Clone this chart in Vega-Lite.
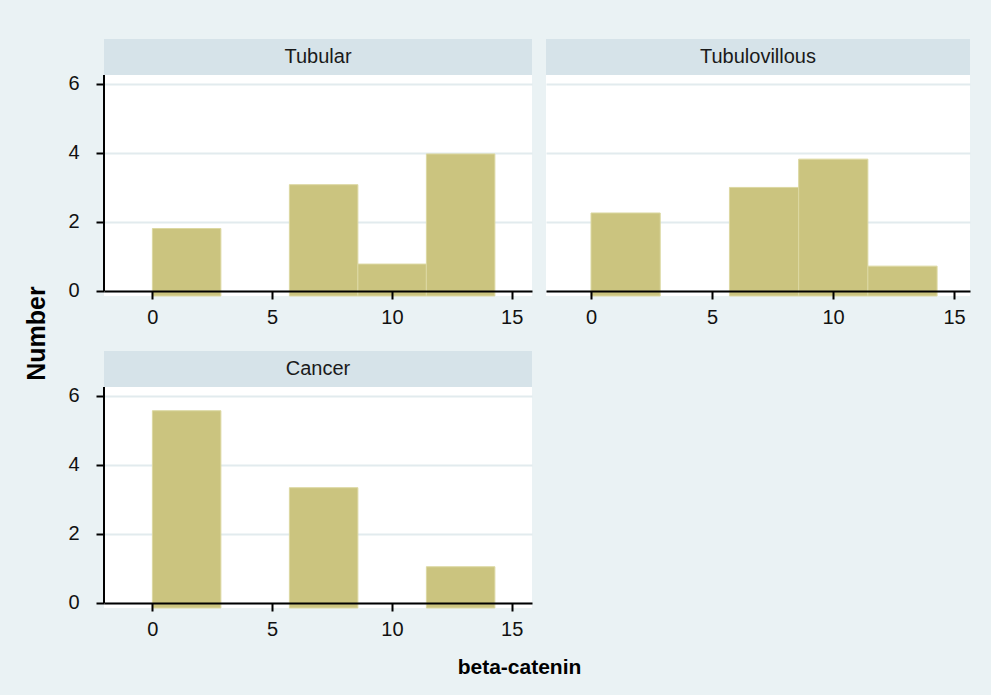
{
  "$schema": "https://vega.github.io/schema/vega-lite/v6.json",
  "background": "#eaf2f4",
  "padding": {"left": 24, "top": 39, "right": 21, "bottom": 18},
  "config": {
    "font": "Liberation Sans",
    "view": {"fill": "white", "stroke": null},
    "axis": {
      "domainColor": "black", "domainWidth": 2,
      "tickColor": "black", "tickWidth": 2, "tickSize": 8,
      "labelColor": "#111111", "labelFontSize": 20, "labelFont": "Liberation Sans",
      "titleColor": "black", "titleFont": "Liberation Sans",
      "gridColor": "#e2ebee", "gridWidth": 2
    }
  },
  "datasets": {
    "hist": [
      {"group": "Tubular", "bin_start": 0, "bin_end": 2.86, "count": 1.81},
      {"group": "Tubular", "bin_start": 5.72, "bin_end": 8.58, "count": 3.08},
      {"group": "Tubular", "bin_start": 8.58, "bin_end": 11.44, "count": 0.78},
      {"group": "Tubular", "bin_start": 11.44, "bin_end": 14.3, "count": 3.97},
      {"group": "Tubulovillous", "bin_start": 0, "bin_end": 2.86, "count": 2.26},
      {"group": "Tubulovillous", "bin_start": 5.72, "bin_end": 8.58, "count": 3.0},
      {"group": "Tubulovillous", "bin_start": 8.58, "bin_end": 11.44, "count": 3.82},
      {"group": "Tubulovillous", "bin_start": 11.44, "bin_end": 14.3, "count": 0.72},
      {"group": "Cancer", "bin_start": 0, "bin_end": 2.86, "count": 5.57},
      {"group": "Cancer", "bin_start": 5.72, "bin_end": 8.58, "count": 3.34},
      {"group": "Cancer", "bin_start": 11.44, "bin_end": 14.3, "count": 1.05}
    ]
  },
  "bounds": "flush",
  "spacing": {"row": 55, "column": 14},
  "columns": 2,
  "concat": [
    {
      "width": 428, "height": 257,
      "layer": [
        {
          "data": {"name": "hist"},
          "transform": [{"filter": "datum.group === 'Tubular'"}],
          "mark": {"type": "rect", "fill": "#cbc47f", "stroke": "#dcd8a2", "strokeWidth": 1},
          "encoding": {
            "x": {"field": "bin_start", "type": "quantitative", "scale": {"domain": [-2.02, 15.85], "nice": false, "zero": false},
                  "axis": {"values": [0, 5, 10, 15], "grid": false, "title": null, "labelPadding": 8, "offset": -5, "zindex": 1}},
            "x2": {"field": "bin_end"},
            "y": {"field": "count", "type": "quantitative", "scale": {"domain": [-0.145, 7.3], "nice": false, "zero": false},
                  "axis": {"values": [0, 2, 4, 6], "grid": true, "domain": false, "labelPadding": 17,
                           "title": "Number", "titleFontSize": 25, "titleFontWeight": "bold",
                           "titleX": -68, "titleY": 294, "titleAngle": -90, "titleBaseline": "middle", "titleAlign": "center"}},
            "y2": {"datum": -0.145}
          }
        },
        {
          "data": {"values": [{"panel": "Tubular"}]},
          "mark": {"type": "rect", "fill": "#d6e3e9"},
          "encoding": {"x": {"datum": -2.02}, "x2": {"datum": 15.85}, "y": {"datum": 6.26}, "y2": {"datum": 7.3}}
        },
        {
          "data": {"values": [{"panel": "Tubular"}]},
          "mark": {"type": "text", "fontSize": 20, "color": "#1a1a1a", "baseline": "middle"},
          "encoding": {"x": {"datum": 6.915}, "y": {"datum": 6.78}, "text": {"field": "panel"}}
        },
        {
          "data": {"values": [{"panel": "Tubular"}]},
          "mark": {"type": "rule", "color": "black", "strokeWidth": 2},
          "encoding": {"x": {"datum": -2.02}, "y": {"datum": 0}, "y2": {"datum": 6.26}}
        }
      ]
    },
    {
      "width": 424, "height": 257,
      "layer": [
        {
          "data": {"name": "hist"},
          "transform": [{"filter": "datum.group === 'Tubulovillous'"}],
          "mark": {"type": "rect", "fill": "#cbc47f", "stroke": "#dcd8a2", "strokeWidth": 1},
          "encoding": {
            "x": {"field": "bin_start", "type": "quantitative", "scale": {"domain": [-1.86, 15.66], "nice": false, "zero": false},
                  "axis": {"values": [0, 5, 10, 15], "grid": false, "title": null, "labelPadding": 8, "offset": -5, "zindex": 1}},
            "x2": {"field": "bin_end"},
            "y": {"field": "count", "type": "quantitative", "scale": {"domain": [-0.145, 7.3], "nice": false, "zero": false},
                  "axis": {"values": [0, 2, 4, 6], "grid": true, "domain": false, "ticks": false, "labels": false, "title": null}},
            "y2": {"datum": -0.145}
          }
        },
        {
          "data": {"values": [{"panel": "Tubulovillous"}]},
          "mark": {"type": "rect", "fill": "#d6e3e9"},
          "encoding": {"x": {"datum": -1.86}, "x2": {"datum": 15.66}, "y": {"datum": 6.26}, "y2": {"datum": 7.3}}
        },
        {
          "data": {"values": [{"panel": "Tubulovillous"}]},
          "mark": {"type": "text", "fontSize": 20, "color": "#1a1a1a", "baseline": "middle"},
          "encoding": {"x": {"datum": 6.9}, "y": {"datum": 6.78}, "text": {"field": "panel"}}
        }
      ]
    },
    {
      "width": 428, "height": 257,
      "layer": [
        {
          "data": {"name": "hist"},
          "transform": [{"filter": "datum.group === 'Cancer'"}],
          "mark": {"type": "rect", "fill": "#cbc47f", "stroke": "#dcd8a2", "strokeWidth": 1},
          "encoding": {
            "x": {"field": "bin_start", "type": "quantitative", "scale": {"domain": [-2.02, 15.85], "nice": false, "zero": false},
                  "axis": {"values": [0, 5, 10, 15], "grid": false, "labelPadding": 8, "offset": -5, "zindex": 1,
                           "title": "beta-catenin", "titleFontSize": 21, "titleFontWeight": "bold",
                           "titleX": 415, "titleY": 64, "titleBaseline": "middle", "titleAlign": "center"}},
            "x2": {"field": "bin_end"},
            "y": {"field": "count", "type": "quantitative", "scale": {"domain": [-0.145, 7.3], "nice": false, "zero": false},
                  "axis": {"values": [0, 2, 4, 6], "grid": true, "domain": false, "labelPadding": 17, "title": null}},
            "y2": {"datum": -0.145}
          }
        },
        {
          "data": {"values": [{"panel": "Cancer"}]},
          "mark": {"type": "rect", "fill": "#d6e3e9"},
          "encoding": {"x": {"datum": -2.02}, "x2": {"datum": 15.85}, "y": {"datum": 6.26}, "y2": {"datum": 7.3}}
        },
        {
          "data": {"values": [{"panel": "Cancer"}]},
          "mark": {"type": "text", "fontSize": 20, "color": "#1a1a1a", "baseline": "middle"},
          "encoding": {"x": {"datum": 6.915}, "y": {"datum": 6.78}, "text": {"field": "panel"}}
        },
        {
          "data": {"values": [{"panel": "Cancer"}]},
          "mark": {"type": "rule", "color": "black", "strokeWidth": 2},
          "encoding": {"x": {"datum": -2.02}, "y": {"datum": 0}, "y2": {"datum": 6.26}}
        }
      ]
    }
  ]
}
